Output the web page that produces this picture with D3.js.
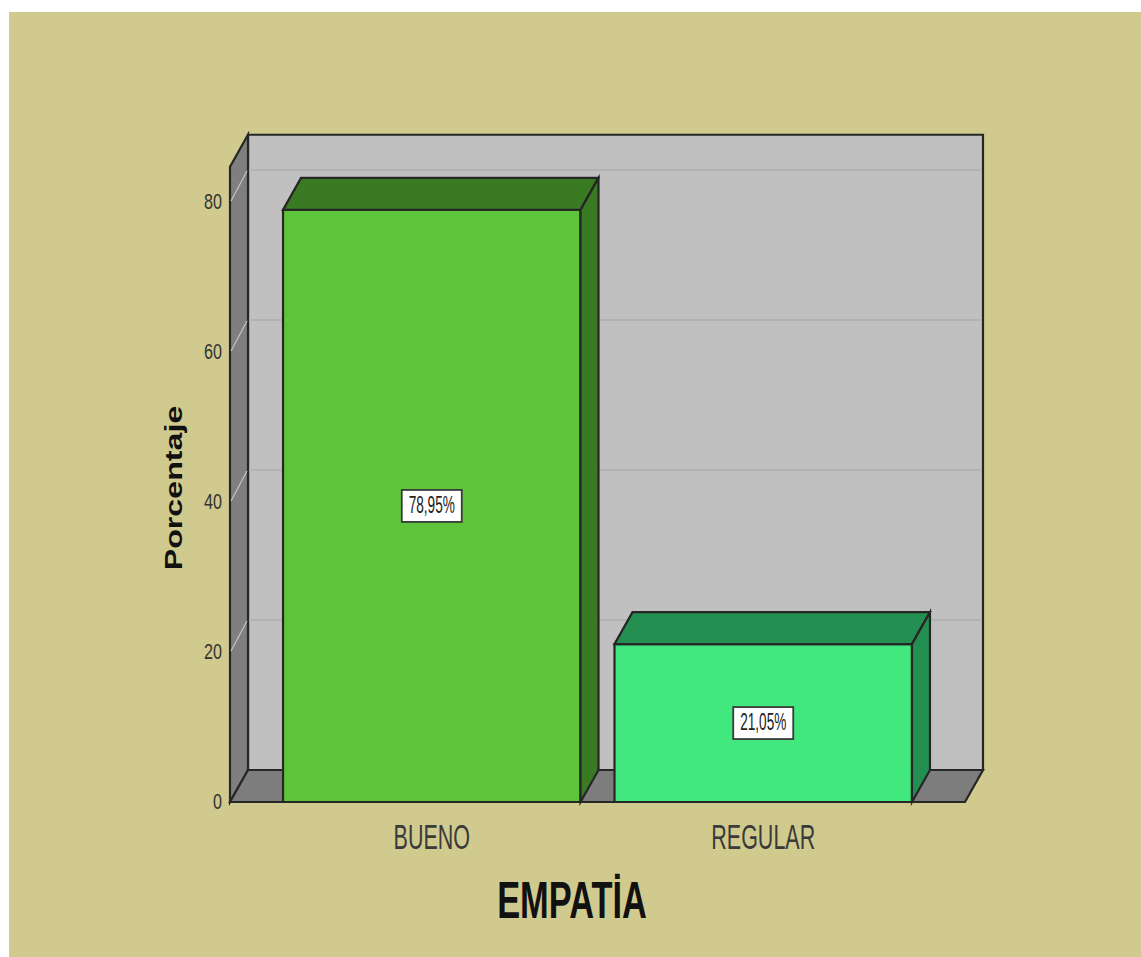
<!DOCTYPE html>
<html>
<head>
<meta charset="utf-8">
<script src="https://cdn.jsdelivr.net/npm/d3@7"></script>
<style>
  html, body { margin: 0; padding: 0; background: #ffffff; }
  svg { display: block; }
</style>
</head>
<body>
<svg id="chart" width="1141" height="957"></svg>
<script>

// data
const categories = ["BUENO", "REGULAR"];
const percentages = [78.95, 21.05];
const valueLabels = ["78,95%", "21,05%"];
const yTicks = [0, 20, 40, 60, 80];
const xTitle = "EMPATİA";
const yTitle = "Porcentaje";

const frontColors = ["#5ec43a", "#41e87d"];
const darkColors = ["#3a7a22", "#238f50"];

const svg = d3.select("#chart");

// tan panel, white strip at top and left
svg.append("rect")
    .attr("x", 9).attr("y", 12)
    .attr("width", 1132).attr("height", 945)
    .attr("fill", "#d1ca8e");

// 3D depth offset
const dx = 18, dy = -32;

const x = d3.scaleBand()
    .domain(categories)
    .range([230, 965])
    .paddingInner(0.1026)
    .paddingOuter(0.16);

const y = d3.scaleLinear()
    .domain([0, 80])
    .range([802, 202]);

const yMax = 84.7;
const xLeft = x.range()[0], xRight = x.range()[1];
const yBottom = y(0), yTop = y(yMax);

const pts = arr => arr.map(p => p.join(",")).join(" ");
const edge = "#262626";

// back wall
svg.append("polygon")
    .attr("points", pts([[xLeft + dx, yTop + dy], [xRight + dx, yTop + dy], [xRight + dx, yBottom + dy], [xLeft + dx, yBottom + dy]]))
    .attr("fill", "#c0c0c0")
    .attr("stroke", edge).attr("stroke-width", 2.2);

// left wall
svg.append("polygon")
    .attr("points", pts([[xLeft, yTop], [xLeft + dx, yTop + dy], [xLeft + dx, yBottom + dy], [xLeft, yBottom]]))
    .attr("fill", "#7f7f7f")
    .attr("stroke", edge).attr("stroke-width", 2.2);

// floor
svg.append("polygon")
    .attr("points", pts([[xLeft, yBottom], [xLeft + dx, yBottom + dy], [xRight + dx, yBottom + dy], [xRight, yBottom]]))
    .attr("fill", "#7d7d7d")
    .attr("stroke", edge).attr("stroke-width", 2.2);

// grid lines on back wall and left wall
const grid = svg.append("g");
yTicks.filter(d => d > 0).forEach(t => {
    grid.append("line")
        .attr("x1", xLeft + dx + 1).attr("x2", xRight + dx - 1)
        .attr("y1", y(t) + dy).attr("y2", y(t) + dy)
        .attr("stroke", "#b3b3b3").attr("stroke-width", 2);
    grid.append("line")
        .attr("x1", xLeft + 1).attr("x2", xLeft + dx - 1)
        .attr("y1", y(t) - 1).attr("y2", y(t) + dy + 1)
        .attr("stroke", "#c4c4c4").attr("stroke-width", 1.2);
});

// bars
const bars = svg.selectAll(".bar")
    .data(categories)
    .enter()
    .append("g")
    .attr("class", "bar");

bars.each(function (c, i) {
    const g = d3.select(this);
    const x0 = x(c), x1 = x(c) + x.bandwidth();
    const yv = y(percentages[i]);

    // front face
    g.append("polygon")
        .attr("points", pts([[x0, yv], [x1, yv], [x1, yBottom], [x0, yBottom]]))
        .attr("fill", frontColors[i])
        .attr("stroke", edge).attr("stroke-width", 2.2);
    // top face
    g.append("polygon")
        .attr("points", pts([[x0, yv], [x0 + dx, yv + dy], [x1 + dx, yv + dy], [x1, yv]]))
        .attr("fill", darkColors[i])
        .attr("stroke", edge).attr("stroke-width", 2.2);
    // side face
    g.append("polygon")
        .attr("points", pts([[x1, yv], [x1 + dx, yv + dy], [x1 + dx, yBottom + dy], [x1, yBottom]]))
        .attr("fill", darkColors[i])
        .attr("stroke", edge).attr("stroke-width", 2.2);

    // value label box
    const cx = x0 + x.bandwidth() / 2;
    const cy = y(percentages[i] / 2);
    g.append("rect")
        .attr("x", cx - 30).attr("y", cy - 16)
        .attr("width", 60).attr("height", 32)
        .attr("fill", "#ffffff")
        .attr("stroke", "#3a3a3a").attr("stroke-width", 1.8);
    g.append("text")
        .attr("transform", `translate(${cx},${cy + 7}) scale(0.8,1.45)`)
        .attr("text-anchor", "middle")
        .attr("font-family", "Liberation Sans, Arial, sans-serif")
        .attr("font-size", 17)
        .attr("fill", "#222")
        .text(valueLabels[i]);
});

// y tick labels
svg.selectAll(".ytick")
    .data(yTicks)
    .enter()
    .append("text")
    .attr("class", "ytick")
    .attr("transform", d => `translate(222,${y(d) + 7}) scale(0.95,1.25)`)
    .attr("text-anchor", "end")
    .attr("font-family", "Liberation Sans, Arial, sans-serif")
    .attr("font-size", 17)
    .attr("fill", "#333")
    .text(d => d);

// x category labels
svg.selectAll(".xlabel")
    .data(categories)
    .enter()
    .append("text")
    .attr("class", "xlabel")
    .attr("transform", d => `translate(${x(d) + x.bandwidth() / 2},${849}) scale(0.86,1.38)`)
    .attr("text-anchor", "middle")
    .attr("font-family", "Liberation Sans, Arial, sans-serif")
    .attr("font-size", 25)
    .attr("fill", "#3a3a3a")
    .text(d => d);

// axis titles
svg.append("text")
    .attr("transform", `translate(572,918) scale(0.86,1.3)`)
    .attr("text-anchor", "middle")
    .attr("font-family", "Liberation Sans, Arial, sans-serif")
    .attr("font-weight", "bold")
    .attr("font-size", 40)
    .attr("fill", "#111")
    .text(xTitle);

svg.append("text")
    .attr("transform", `translate(182,488) rotate(-90) scale(1.4,1)`)
    .attr("text-anchor", "middle")
    .attr("font-family", "Liberation Sans, Arial, sans-serif")
    .attr("font-weight", "bold")
    .attr("font-size", 23)
    .attr("fill", "#111")
    .text(yTitle);

</script>
</body>
</html>
